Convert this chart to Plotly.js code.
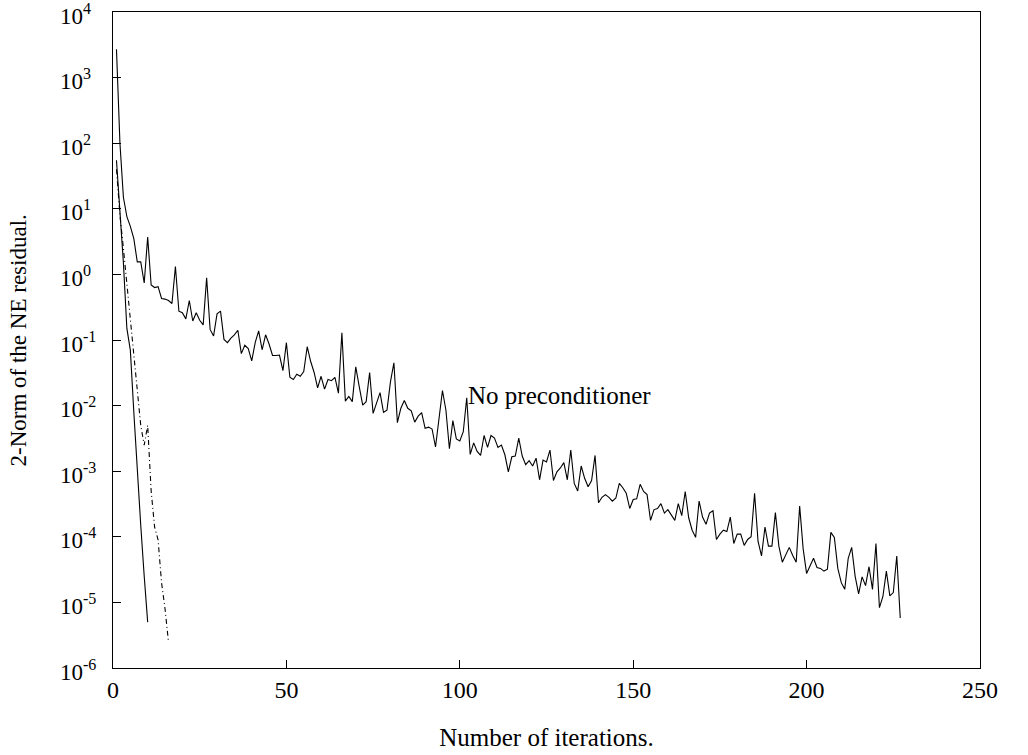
<!DOCTYPE html>
<html><head><meta charset="utf-8">
<script src="https://cdn.plot.ly/plotly-3.0.1.min.js"></script>
<style>html,body{margin:0;padding:0;background:#fff}</style>
</head><body>
<div id="chart" style="width:1028px;height:755px"></div>
<script>
// Residual norms, one value per iteration starting at iteration 1
const noPrecond = [2.7e3, 1.0e2, 15, 7.6, 5.4, 3.5, 1.55, 1.55, 0.74, 3.7,
 0.69, 0.63, 0.65, 0.43, 0.42, 0.40, 0.36, 1.32, 0.275, 0.26,
 0.21, 0.40, 0.195, 0.26, 0.20, 0.17, 0.89, 0.145, 0.115, 0.25,
 0.275, 0.102, 0.091, 0.107, 0.12, 0.141, 0.062, 0.083, 0.074, 0.048,
 0.091, 0.138, 0.071, 0.12, 0.087, 0.058, 0.058, 0.059, 0.034, 0.091,
 0.027, 0.025, 0.030, 0.028, 0.033, 0.079, 0.047, 0.032, 0.0186, 0.028,
 0.0178, 0.025, 0.024, 0.027, 0.0155, 0.129, 0.0117, 0.0138, 0.0115, 0.039,
 0.0195, 0.0102, 0.0115, 0.032, 0.0076, 0.0107, 0.0158, 0.0079, 0.0085, 0.023,
 0.045, 0.0055, 0.0091, 0.012, 0.0091, 0.0083, 0.0056, 0.0069, 0.0078, 0.0045,
 0.0047, 0.0044, 0.00234, 0.0063, 0.017, 0.0085, 0.0022, 0.0059, 0.0031, 0.0029,
 0.0040, 0.0132, 0.0018, 0.0027, 0.0020, 0.00174, 0.0035, 0.0023, 0.0035, 0.0032,
 0.0023, 0.0025, 0.00178, 0.00098, 0.00166, 0.0017, 0.0032, 0.0017, 0.00126, 0.00145,
 0.0012, 0.00158, 0.00074, 0.00148, 0.00138, 0.0021, 0.00072, 0.00098, 0.00112, 0.00135,
 0.00074, 0.0021, 0.00065, 0.0005, 0.0012, 0.00078, 0.00058, 0.00072, 0.00174, 0.00033,
 0.0004, 0.00044, 0.0004, 0.00035, 0.00039, 0.00065, 0.00056, 0.00046, 0.00027, 0.00037,
 0.00038, 0.00063, 0.00049, 0.00044, 0.000178, 0.00026, 0.00027, 0.00032, 0.00023, 0.00026,
 0.00021, 0.000178, 0.00032, 0.00021, 0.00049, 0.000195, 0.000126, 9.8e-5, 0.00035, 0.0002,
 0.000155, 0.00023, 0.00025, 9.1e-5, 0.00011, 0.000126, 0.00012, 0.0002, 7.9e-5, 0.00011,
 0.00011, 7.4e-5, 9.1e-5, 1.0e-4, 0.00046, 8.5e-5, 5.1e-5, 0.000141, 7.2e-5, 7.2e-5,
 0.000234, 7.2e-5, 4.1e-5, 5.2e-5, 6.9e-5, 5.2e-5, 4.1e-5, 0.000295, 6.6e-5, 2.75e-5,
 3.5e-5, 4.7e-5, 3.4e-5, 3.3e-5, 3.0e-5, 3.2e-5, 1.17e-4, 9.8e-5, 3.3e-5, 2.0e-5,
 1.58e-5, 4.7e-5, 6.9e-5, 2.5e-5, 1.35e-5, 2.45e-5, 1.8e-5, 3.5e-5, 1.58e-5, 7.9e-5,
 8.3e-6, 1.23e-5, 3.0e-5, 1.26e-5, 1.41e-5, 5.1e-5, 5.8e-6];

const precondSolid = [55, 9, 1.5, 0.15, 0.07, 0.008, 0.001, 1.5e-4, 2.5e-5, 5e-6];

const precondDashDot = [40, 8, 2.5, 0.7, 0.2, 0.05, 0.015, 0.005, 0.0025, 0.005,
 5e-4, 1.4e-4, 9e-5, 2e-5, 8e-6, 2.5e-6];

const xTicks = [0, 50, 100, 150, 200, 250];
const yTickExps = [-6, -5, -4, -3, -2, -1, 0, 1, 2, 3, 4];

const labelText = 'No preconditioner';
const xTitle = 'Number of iterations.';
const yTitle = '2-Norm of the NE residual.';

const iters = arr => arr.map((_, i) => i + 1);
const FONT = 'Liberation Serif, Times New Roman, serif';

const traces = [
  {x: iters(noPrecond), y: noPrecond, mode: 'lines', line: {color: '#000', width: 1.1}},
  {x: iters(precondSolid), y: precondSolid, mode: 'lines', line: {color: '#000', width: 1.1}},
  {x: iters(precondDashDot), y: precondDashDot, mode: 'lines', line: {color: '#000', width: 1.1, dash: '5px,3px,1px,3px'}}
];

const annotations = yTickExps.map(e => ({
  xref: 'paper', yref: 'y', x: -0.063, y: e, xanchor: 'left', yanchor: 'middle', yshift: -2,
  text: '10<sup>' + e + '</sup>', showarrow: false, font: {family: FONT, size: 23, color: '#000'}
}));
annotations.push({xref: 'x', yref: 'y', x: 101.8, y: -1.84, xanchor: 'left', yanchor: 'middle',
  text: labelText, showarrow: false, font: {family: FONT, size: 25, color: '#000'}});
annotations.push({xref: 'paper', yref: 'paper', x: -0.109, y: 0.5, xanchor: 'center', yanchor: 'middle',
  textangle: -90, text: yTitle, showarrow: false, font: {family: FONT, size: 23, color: '#000'}});

const layout = {
  width: 1028, height: 755,
  margin: {l: 113, r: 48, t: 12, b: 87},
  paper_bgcolor: '#fff', plot_bgcolor: '#fff',
  showlegend: false,
  font: {family: FONT, size: 24, color: '#000'},
  xaxis: {range: [0, 250], tickvals: xTicks, ticks: 'inside', ticklen: 8, tickcolor: '#000',
    showline: true, linecolor: '#000', linewidth: 1, mirror: true, showgrid: false, zeroline: false,
    tickfont: {family: FONT, size: 24},
    title: {text: xTitle, font: {family: FONT, size: 25}, standoff: 26}},
  yaxis: {type: 'log', range: [-6, 4], tickvals: yTickExps.map(e => Math.pow(10, e)), ticks: 'inside', ticklen: 8,
    tickcolor: '#000', showticklabels: false,
    showline: true, linecolor: '#000', linewidth: 1, mirror: true, showgrid: false, zeroline: false},
  annotations: annotations
};

Plotly.newPlot('chart', traces, layout, {displayModeBar: false, staticPlot: true});
</script>
</body></html>
